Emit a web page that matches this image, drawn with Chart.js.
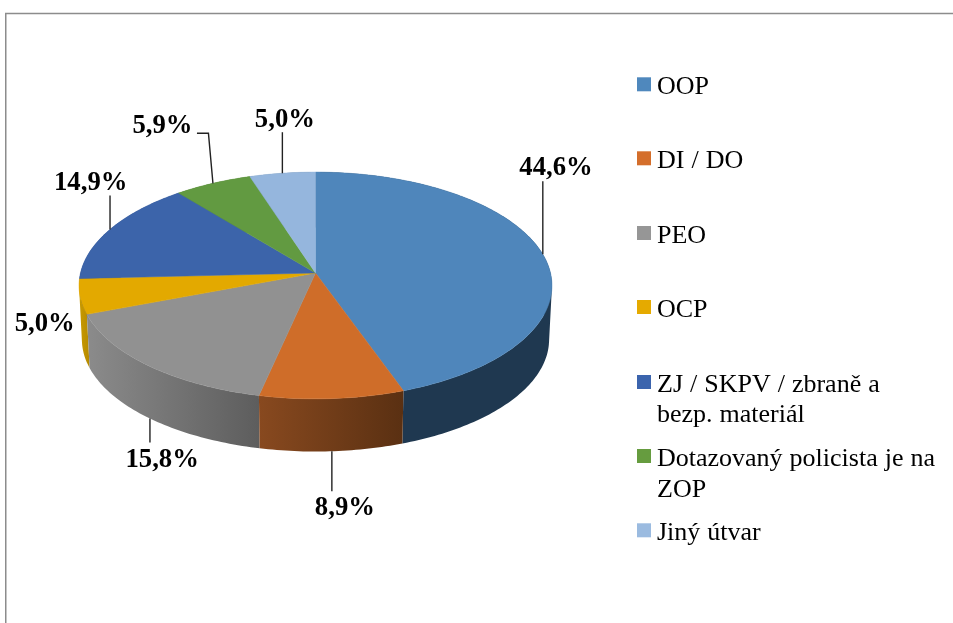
<!DOCTYPE html>
<html lang="cs">
<head>
<meta charset="utf-8">
<title>Koláčový graf</title>
<style>html,body{margin:0;padding:0;background:#fff}canvas{display:block}</style>
<script src="https://cdn.jsdelivr.net/npm/chart.js@4/dist/chart.umd.min.js"></script>
</head>
<body>
<canvas id="c" width="953" height="623"></canvas>
<script>
// ---- data ----
const categories = ['OOP', 'DI / DO', 'PEO', 'OCP', 'ZJ / SKPV / zbraně a bezp. materiál', 'Dotazovaný policista je na ZOP', 'Jiný útvar'];
const shares = [44.6, 8.9, 15.8, 5.0, 14.9, 5.9, 5.0];

// ---- styles and layout ----
const faceColors = ['#4f86bb', '#cf6d29', '#919191', '#e3a900', '#3c64aa', '#629a41', '#95b6dd'];
const swatchColors = ['#4f88bd', '#d46e2b', '#969696', '#e5aa00', '#3b64ad', '#669c3f', '#9bbbe0'];
const sideShades = [['#1f3850', '#1f3850'], ['#88491f', '#5a3012'], ['#8b8b8b', '#5d5d5d'], ['#c99a00', '#b58a00'], ['#2a4678', '#2a4678'], ['#446b2d', '#446b2d'], ['#68809b', '#68809b']];
const view = { cx: 315.5, cy: 273, a: 235, b: 112, k: 0.11, depthCy: 327.2, shrink: 0.988 };
const legendLines = [['OOP'], ['DI / DO'], ['PEO'], ['OCP'], ['ZJ / SKPV / zbraně a', 'bezp. materiál'], ['Dotazovaný policista je na', 'ZOP'], ['Jiný útvar']];
const legendBaselines = [[94], [168], [242.7], [316.7], [391.7, 422], [465.7, 496.7], [540]];
const labelOffsets = [
  { dx: -23.5, dy: -79.4, path: [[0, -73]] },
  { dx: -17, dy: 64, path: [[0, 40]] },
  { dx: -24.5, dy: 48.5, path: [[0, 24]] },
  { dx: -65.5, dy: 35, path: [] },
  { dx: -56, dy: -39, path: [[0, -34]] },
  { dx: -80.5, dy: -50, path: [[-4.5, -50], [-16, -50]] },
  { dx: -27.5, dy: -46, path: [[0, -41]] }
];
const SERIF = '"Liberation Serif", "Times New Roman", serif';

function project(angle, lower) {
  const u = Math.cos(angle), v = Math.sin(angle), w = 1 - view.k * v;
  const s = lower ? view.shrink : 1;
  return {
    x: view.cx + s * view.a * u / w,
    y: (lower ? view.depthCy : view.cy) + s * view.b * v / w
  };
}
function arcPoints(start, end, lower) {
  const pts = [], n = Math.max(2, Math.ceil((end - start) / (Math.PI / 180)));
  for (let i = 0; i <= n; i++) pts.push(project(start + (end - start) * i / n, lower));
  return pts;
}
function tracePolygon(ctx, pts) {
  ctx.beginPath();
  pts.forEach((p, i) => i ? ctx.lineTo(p.x, p.y) : ctx.moveTo(p.x, p.y));
  ctx.closePath();
}
function addQuad(ctx, q) {
  let area = 0;
  q.forEach((p, i) => { const r = q[(i + 1) % 4]; area += p.x * r.y - r.x * p.y; });
  const pts = area < 0 ? q.slice().reverse() : q;
  pts.forEach((p, i) => i ? ctx.lineTo(p.x, p.y) : ctx.moveTo(p.x, p.y));
  ctx.closePath();
}

const pie3d = {
  id: 'pie3d',
  beforeDraw(chart) {
    const ctx = chart.ctx;
    ctx.save();
    ctx.strokeStyle = '#8c8c8c';
    ctx.lineWidth = 1.5;
    ctx.beginPath();
    ctx.moveTo(953, 13.5);
    ctx.lineTo(5.75, 13.5);
    ctx.lineTo(5.75, 623);
    ctx.stroke();
    ctx.restore();
  },
  beforeDatasetsDraw(chart) {
    const ctx = chart.ctx;
    const arcs = chart.getDatasetMeta(0).data;
    ctx.save();
    if ('fontKerning' in ctx) ctx.fontKerning = 'none';
    // side walls, far slices first
    const order = arcs.map((_, i) => i).sort((p, q) =>
      Math.sin((arcs[p].startAngle + arcs[p].endAngle) / 2) - Math.sin((arcs[q].startAngle + arcs[q].endAngle) / 2));
    order.forEach(i => {
      const top = arcPoints(arcs[i].startAngle, arcs[i].endAngle, false);
      const bottom = arcPoints(arcs[i].startAngle, arcs[i].endAngle, true);
      const xs = top.concat(bottom).map(p => p.x);
      const grad = ctx.createLinearGradient(Math.min(...xs), 0, Math.max(...xs), 0);
      grad.addColorStop(0, sideShades[i][0]);
      grad.addColorStop(1, sideShades[i][1]);
      ctx.beginPath();
      for (let j = 0; j < top.length - 1; j++) addQuad(ctx, [top[j], top[j + 1], bottom[j + 1], bottom[j]]);
      ctx.fillStyle = grad;
      ctx.fill('nonzero');
    });
    // top faces
    arcs.forEach((arc, i) => {
      const centre = { x: view.cx, y: view.cy };
      tracePolygon(ctx, [centre].concat(arcPoints(arc.startAngle, arc.endAngle, false)));
      ctx.fillStyle = faceColors[i];
      ctx.strokeStyle = faceColors[i];
      ctx.lineWidth = 0.5;
      ctx.fill();
      ctx.stroke();
    });
    // leader lines and value labels
    ctx.font = 'bold 26.7px ' + SERIF;
    ctx.textBaseline = 'alphabetic';
    ctx.textAlign = 'left';
    arcs.forEach((arc, i) => {
      const mid = (arc.startAngle + arc.endAngle) / 2;
      const anchor = project(mid, Math.sin(mid) > 0.3);
      const lay = labelOffsets[i];
      if (lay.path.length) {
        ctx.beginPath();
        ctx.moveTo(anchor.x, anchor.y);
        lay.path.forEach(p => ctx.lineTo(anchor.x + p[0], anchor.y + p[1]));
        ctx.strokeStyle = '#222';
        ctx.lineWidth = 1.4;
        ctx.stroke();
      }
      ctx.fillStyle = '#000';
      ctx.fillText(shares[i].toFixed(1).replace('.', ',') + '%', anchor.x + lay.dx, anchor.y + lay.dy);
    });
    // legend
    ctx.font = '26px ' + SERIF;
    if ('wordSpacing' in ctx) ctx.wordSpacing = '0.5px';
    legendLines.forEach((lines, i) => {
      const base = legendBaselines[i];
      ctx.fillStyle = swatchColors[i];
      ctx.fillRect(637, base[0] - 16.7, 14, 14);
      ctx.fillStyle = '#000';
      lines.forEach((t, j) => ctx.fillText(t, 657, base[j]));
    });
    ctx.restore();
    return false;
  }
};

new Chart(document.getElementById('c'), {
  type: 'pie',
  data: {
    labels: categories,
    datasets: [{ data: shares, backgroundColor: faceColors, borderWidth: 0 }]
  },
  options: {
    responsive: false,
    animation: false,
    events: [],
    plugins: { legend: { display: false }, tooltip: { enabled: false } }
  },
  plugins: [pie3d]
});
</script>
</body>
</html>
